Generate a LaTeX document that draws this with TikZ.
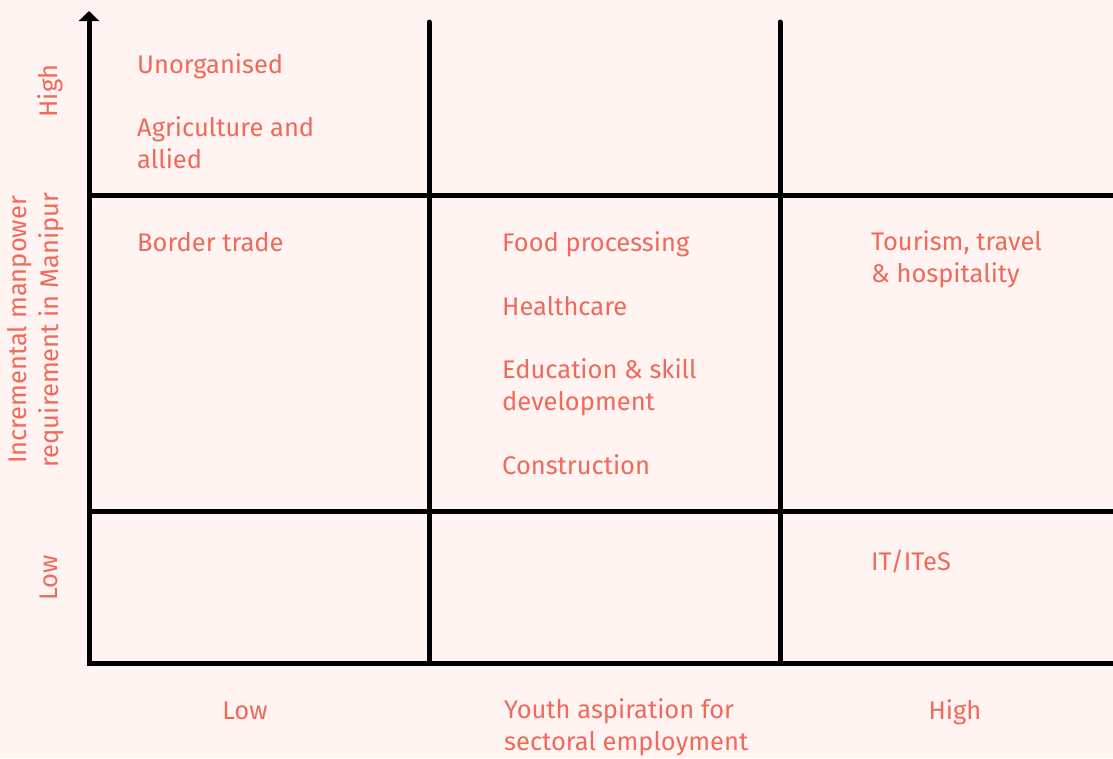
\documentclass[tikz,border=0pt]{standalone}
\usepackage{fontspec}
\setmainfont{Fira Sans}
\usepackage{xcolor}
\usetikzlibrary{arrows.meta}
\definecolor{bgpink}{HTML}{FFF4F2}
\definecolor{salmon}{HTML}{EE6A5A}

\begin{document}
\begin{tikzpicture}[x=1pt,y=-1pt,
    every node/.style={inner sep=0pt,text=salmon,font=\fontsize{25.5}{32}\selectfont},
    cell/.style={anchor=base west,align=left},
    axlbl/.style={anchor=base,align=center},
    grid/.style={line width=5pt,black}]
   \fill [bgpink] (0,0) rectangle (1113,758);
   \useasboundingbox (0,0) rectangle (1113,758);
   % grid
   \draw [grid,-{Triangle[width=20pt,length=10pt]}] (89,665.5) -- (89,11);
   \draw [grid,line cap=round] (429,663) -- (429,22);
   \draw [grid,line cap=round] (780,663) -- (780,22);
   \draw [grid] (86.5,663) -- (1113,663);
   \draw [grid] (89,195) -- (1113,195);
   \draw [grid] (89,511) -- (1113,511);
   % sectors (multi-line nodes sit on their last line)
   \node [cell] (unorg) at (137,73) {Unorganised};
   \node [cell] (agri) at (137,168) {Agriculture and\\allied};
   \node [cell] (border) at (137,251) {Border trade};
   \node [cell] (food) at (502,251) {Food processing};
   \node [cell] (health) at (502,315) {Healthcare};
   \node [cell] (edu) at (502,410) {Education \& skill\\development};
   \node [cell] (constr) at (502,474) {Construction};
   \node [cell] (tour) at (871,282) {Tourism, travel\\\& hospitality};
   \node [cell] (itites) at (871,570) {IT/ITeS};
   % axis labels
   \node [axlbl] (xlow) at (245,719) {Low};
   \node [cell] (xtitle) at (504,750) {Youth aspiration for\\sectoral employment};
   \node [axlbl] (xhigh) at (955,719) {High};
   \node [axlbl,rotate=90] (yhigh) at (57,91) {High};
   \node [axlbl,rotate=90] (ylow) at (57,578) {Low};
   \node [axlbl,rotate=90] (ytitle) at (58,330) {Incremental manpower\\requirement in Manipur};
\end{tikzpicture}
\end{document}
